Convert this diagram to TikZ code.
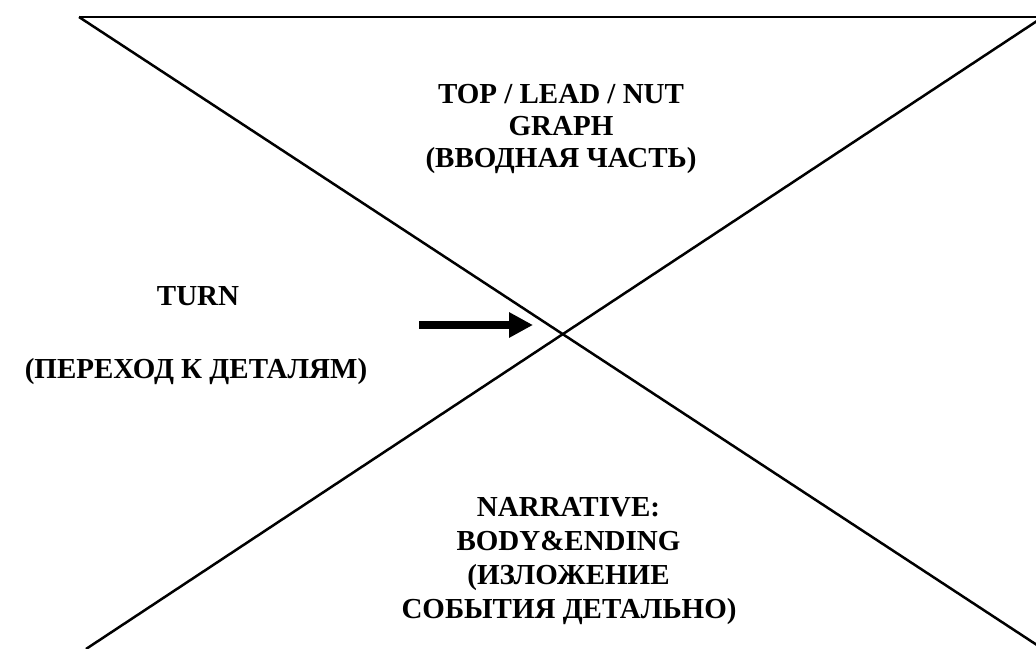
\documentclass[tikz,border=0pt]{standalone}
\usepackage{fontspec}
\setmainfont{Liberation Serif}
\usetikzlibrary{arrows.meta}
\begin{document}
\begin{tikzpicture}[x=1pt,y=-1pt,
  edge/.style={line width=2.5pt, line cap=butt},
  lbl/.style={font=\fontsize{29}{35}\selectfont\bfseries, inner sep=0pt, anchor=base}]
\useasboundingbox (0,0) rectangle (1036,648);
\coordinate (tl) at (79,17);
\coordinate (tr) at (1040,17);
\coordinate (br) at (1040,647);
\coordinate (rt) at (1040,19);
\coordinate (bl) at (86,649);
\draw[edge] (tl) -- (tr);
\draw[edge] (tl) -- (br);
\draw[edge] (rt) -- (bl);
\coordinate (as) at (419,325);
\coordinate (ae) at (533,325);
\draw[line width=8pt, -{Triangle[length=24pt,width=24pt]}] (as) -- (ae);
\node[lbl] (t1) at (561,103) {TOP / LEAD / NUT};
\node[lbl] (t2) at (561,135) {GRAPH};
\node[lbl] (t3) at (561,167) {(ВВОДНАЯ ЧАСТЬ)};
\node[lbl] (m1) at (198,305) {TURN};
\node[lbl] (m2) at (196,378) {(ПЕРЕХОД К ДЕТАЛЯМ)};
\node[lbl] (b1) at (568.5,516) {NARRATIVE:};
\node[lbl] (b2) at (568.5,550) {BODY\&ENDING};
\node[lbl] (b3) at (568.5,584) {(ИЗЛОЖЕНИЕ};
\node[lbl] (b4) at (569,618) {СОБЫТИЯ ДЕТАЛЬНО)};
\end{tikzpicture}
\end{document}
